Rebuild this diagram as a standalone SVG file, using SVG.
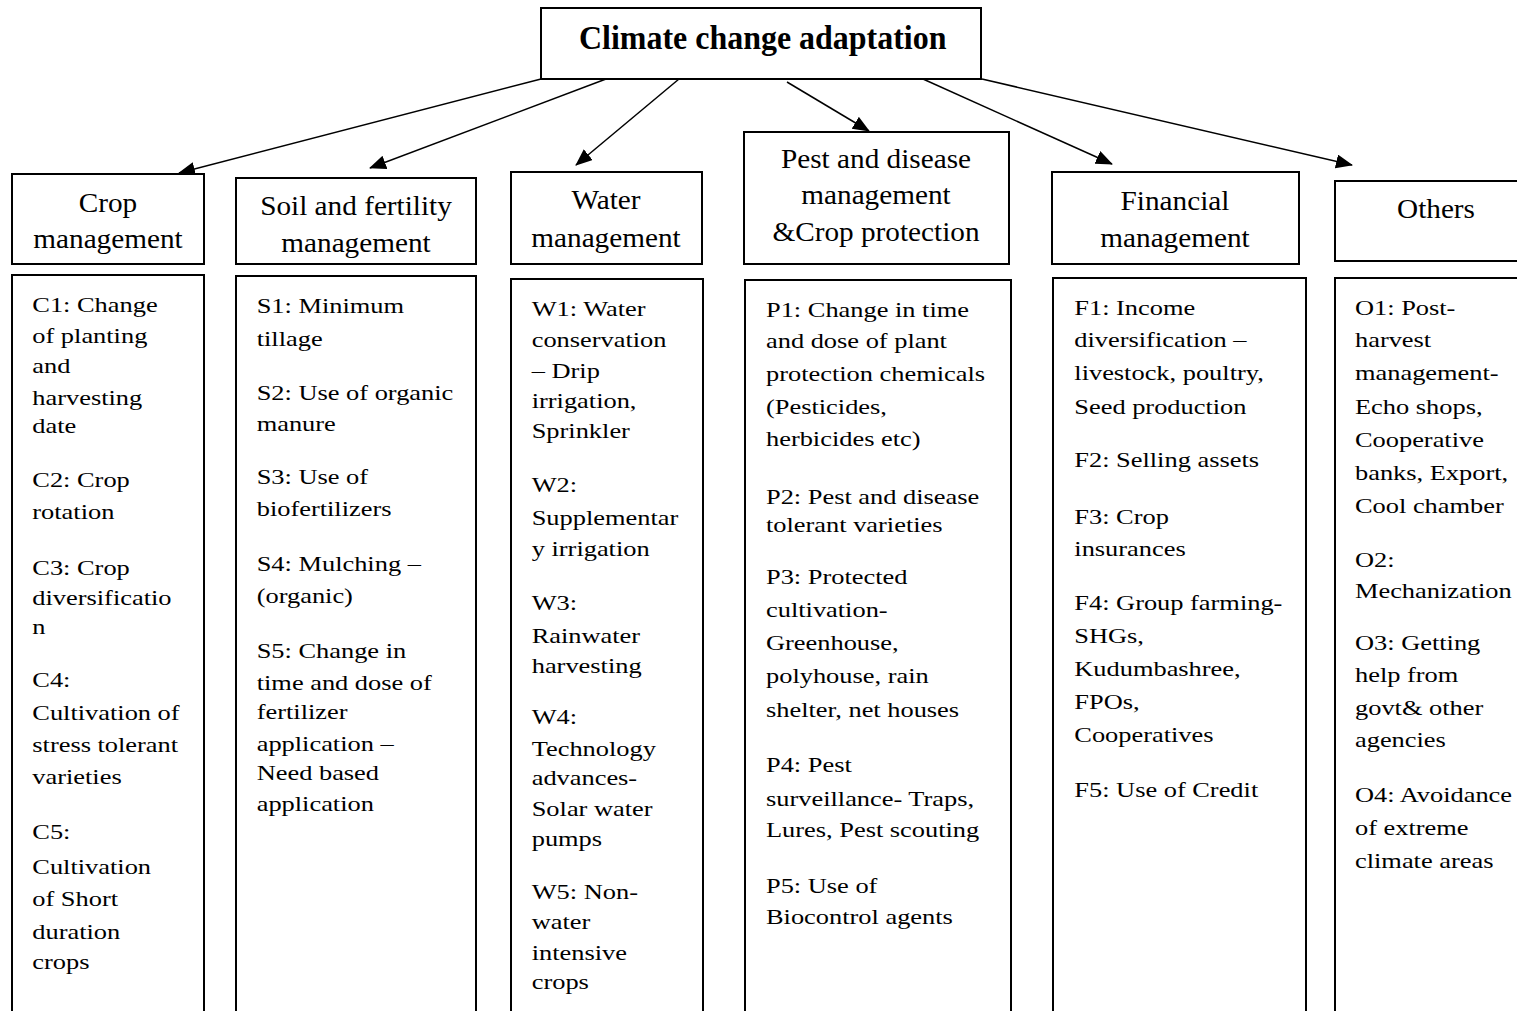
<svg xmlns="http://www.w3.org/2000/svg" width="1517" height="1011" viewBox="0 0 1517 1011">
<style>
.box{fill:#fff;stroke:#000;stroke-width:2}
.title{font-family:"Liberation Serif","Times New Roman",serif;font-weight:bold;font-size:34px;fill:#000}
.hd{font-family:"Liberation Serif","Times New Roman",serif;font-size:28px;fill:#000;text-anchor:middle}
.bd{font-family:"Liberation Serif","Times New Roman",serif;font-size:22px;fill:#000}
.conn{stroke:#000;stroke-width:1.5;fill:none}
</style>
<defs>
<marker id="ah" markerUnits="userSpaceOnUse" markerWidth="18" markerHeight="15" refX="16" refY="7" orient="auto">
<path d="M0,0 L17,7 L0,14 z" fill="#000"/>
</marker>
</defs>
<rect width="1517" height="1011" fill="#fff"/>

<g id="node-root">
<rect class="box" x="541" y="8" width="440" height="71"/>
<text class="title" transform="translate(579 49) scale(0.94 1)" x="0" y="0">Climate change adaptation</text>
</g>

<g id="connectors">
<line class="conn" x1="541" y1="79" x2="179" y2="173" marker-end="url(#ah)"/>
<line class="conn" x1="606" y1="79" x2="370" y2="168" marker-end="url(#ah)"/>
<line class="conn" x1="679" y1="79" x2="576" y2="165" marker-end="url(#ah)"/>
<line class="conn" x1="787" y1="82" x2="869" y2="131" marker-end="url(#ah)"/>
<line class="conn" x1="923" y1="79" x2="1112" y2="164" marker-end="url(#ah)"/>
<line class="conn" x1="982" y1="79" x2="1352" y2="165" marker-end="url(#ah)"/>
</g>

<g id="node-crop">
<rect class="box" x="12" y="174" width="192" height="90"/>
<text class="hd" transform="translate(108 0) scale(1.045 1)"><tspan x="0" y="212">Crop</tspan><tspan x="0" y="248">management</tspan></text>
</g>
<g id="node-soil">
<rect class="box" x="236" y="178" width="240" height="86"/>
<text class="hd" transform="translate(356 0) scale(1.045 1)"><tspan x="0" y="215">Soil and fertility</tspan><tspan x="0" y="252">management</tspan></text>
</g>
<g id="node-water">
<rect class="box" x="511" y="172" width="191" height="92"/>
<text class="hd" transform="translate(606 0) scale(1.045 1)"><tspan x="0" y="209">Water</tspan><tspan x="0" y="247">management</tspan></text>
</g>
<g id="node-pest">
<rect class="box" x="744" y="132" width="265" height="132"/>
<text class="hd" transform="translate(876 0) scale(1.045 1)"><tspan x="0" y="168">Pest and disease</tspan><tspan x="0" y="204">management</tspan><tspan x="0" y="241">&amp;Crop protection</tspan></text>
</g>
<g id="node-financial">
<rect class="box" x="1052" y="172" width="247" height="92"/>
<text class="hd" transform="translate(1175 0) scale(1.045 1)"><tspan x="0" y="210">Financial</tspan><tspan x="0" y="247">management</tspan></text>
</g>
<g id="node-others">
<rect class="box" x="1335" y="181" width="200" height="80"/>
<text class="hd" transform="translate(1436 0) scale(1.045 1)"><tspan x="0" y="218">Others</tspan></text>
</g>

<g id="list-crop">
<rect class="box" x="12" y="275" width="192" height="760"/>
<text class="bd" transform="translate(32.3 0) scale(1.2 1)">
<tspan x="0" y="311.6">C1: Change</tspan><tspan x="0" y="343.3">of planting</tspan><tspan x="0" y="373">and</tspan><tspan x="0" y="404.7">harvesting</tspan><tspan x="0" y="433">date</tspan>
<tspan x="0" y="487.4">C2: Crop</tspan><tspan x="0" y="519">rotation</tspan>
<tspan x="0" y="574.8">C3: Crop</tspan><tspan x="0" y="604.6">diversificatio</tspan><tspan x="0" y="634">n</tspan>
<tspan x="0" y="686.8">C4:</tspan><tspan x="0" y="720">Cultivation of</tspan><tspan x="0" y="752">stress tolerant</tspan><tspan x="0" y="784">varieties</tspan>
<tspan x="0" y="839.5">C5:</tspan><tspan x="0" y="874">Cultivation</tspan><tspan x="0" y="905.6">of Short</tspan><tspan x="0" y="938.7">duration</tspan><tspan x="0" y="969.4">crops</tspan>
</text>
</g>
<g id="list-soil">
<rect class="box" x="236" y="276" width="240" height="760"/>
<text class="bd" transform="translate(256.7 0) scale(1.2 1)">
<tspan x="0" y="313.5">S1: Minimum</tspan><tspan x="0" y="345.6">tillage</tspan>
<tspan x="0" y="400">S2: Use of organic</tspan><tspan x="0" y="430.7">manure</tspan>
<tspan x="0" y="483.6">S3: Use of</tspan><tspan x="0" y="515.7">biofertilizers</tspan>
<tspan x="0" y="571">S4: Mulching –</tspan><tspan x="0" y="603">(organic)</tspan>
<tspan x="0" y="658.5">S5: Change in</tspan><tspan x="0" y="689.7">time and dose of</tspan><tspan x="0" y="719">fertilizer</tspan><tspan x="0" y="751">application –</tspan><tspan x="0" y="780.4">Need based</tspan><tspan x="0" y="811">application</tspan>
</text>
</g>
<g id="list-water">
<rect class="box" x="511" y="279" width="192" height="760"/>
<text class="bd" transform="translate(531.7 0) scale(1.2 1)">
<tspan x="0" y="316.3">W1: Water</tspan><tspan x="0" y="346.6">conservation</tspan><tspan x="0" y="377.8">– Drip</tspan><tspan x="0" y="408.5">irrigation,</tspan><tspan x="0" y="437.8">Sprinkler</tspan>
<tspan x="0" y="492">W2:</tspan><tspan x="0" y="525">Supplementar</tspan><tspan x="0" y="556">y irrigation</tspan>
<tspan x="0" y="610">W3:</tspan><tspan x="0" y="643">Rainwater</tspan><tspan x="0" y="672.6">harvesting</tspan>
<tspan x="0" y="723.7">W4:</tspan><tspan x="0" y="755.8">Technology</tspan><tspan x="0" y="785">advances-</tspan><tspan x="0" y="815.8">Solar water</tspan><tspan x="0" y="845.6">pumps</tspan>
<tspan x="0" y="899.5">W5: Non-</tspan><tspan x="0" y="929.3">water</tspan><tspan x="0" y="960">intensive</tspan><tspan x="0" y="989.3">crops</tspan>
</text>
</g>
<g id="list-pest">
<rect class="box" x="745" y="280" width="266" height="760"/>
<text class="bd" transform="translate(766 0) scale(1.2 1)">
<tspan x="0" y="317">P1: Change in time</tspan><tspan x="0" y="348">and dose of plant</tspan><tspan x="0" y="381">protection chemicals</tspan><tspan x="0" y="414">(Pesticides,</tspan><tspan x="0" y="445.8">herbicides etc)</tspan>
<tspan x="0" y="504">P2: Pest and disease</tspan><tspan x="0" y="532.3">tolerant varieties</tspan>
<tspan x="0" y="584.3">P3: Protected</tspan><tspan x="0" y="617.4">cultivation-</tspan><tspan x="0" y="650.4">Greenhouse,</tspan><tspan x="0" y="683.5">polyhouse, rain</tspan><tspan x="0" y="716.6">shelter, net houses</tspan>
<tspan x="0" y="772">P4: Pest</tspan><tspan x="0" y="806.4">surveillance- Traps,</tspan><tspan x="0" y="837">Lures, Pest scouting</tspan>
<tspan x="0" y="892.9">P5: Use of</tspan><tspan x="0" y="924.5">Biocontrol agents</tspan>
</text>
</g>
<g id="list-financial">
<rect class="box" x="1053" y="278" width="253" height="760"/>
<text class="bd" transform="translate(1074.3 0) scale(1.2 1)">
<tspan x="0" y="315">F1: Income</tspan><tspan x="0" y="346.6">diversification –</tspan><tspan x="0" y="379.6">livestock, poultry,</tspan><tspan x="0" y="414">Seed production</tspan>
<tspan x="0" y="467.5">F2: Selling assets</tspan>
<tspan x="0" y="524.3">F3: Crop</tspan><tspan x="0" y="556">insurances</tspan>
<tspan x="0" y="610">F4: Group farming-</tspan><tspan x="0" y="643">SHGs,</tspan><tspan x="0" y="676.4">Kudumbashree,</tspan><tspan x="0" y="708.6">FPOs,</tspan><tspan x="0" y="741.6">Cooperatives</tspan>
<tspan x="0" y="797">F5: Use of Credit</tspan>
</text>
</g>
<g id="list-others">
<rect class="box" x="1335" y="278" width="200" height="760"/>
<text class="bd" transform="translate(1355 0) scale(1.2 1)">
<tspan x="0" y="315">O1: Post-</tspan><tspan x="0" y="346.6">harvest</tspan><tspan x="0" y="379.6">management-</tspan><tspan x="0" y="414">Echo shops,</tspan><tspan x="0" y="447">Cooperative</tspan><tspan x="0" y="480">banks, Export,</tspan><tspan x="0" y="513.4">Cool chamber</tspan>
<tspan x="0" y="566.8">O2:</tspan><tspan x="0" y="598.5">Mechanization</tspan>
<tspan x="0" y="650.4">O3: Getting</tspan><tspan x="0" y="682">help from</tspan><tspan x="0" y="715">govt&amp; other</tspan><tspan x="0" y="747.3">agencies</tspan>
<tspan x="0" y="801.7">O4: Avoidance</tspan><tspan x="0" y="834.7">of extreme</tspan><tspan x="0" y="867.8">climate areas</tspan>
</text>
</g>
</svg>
